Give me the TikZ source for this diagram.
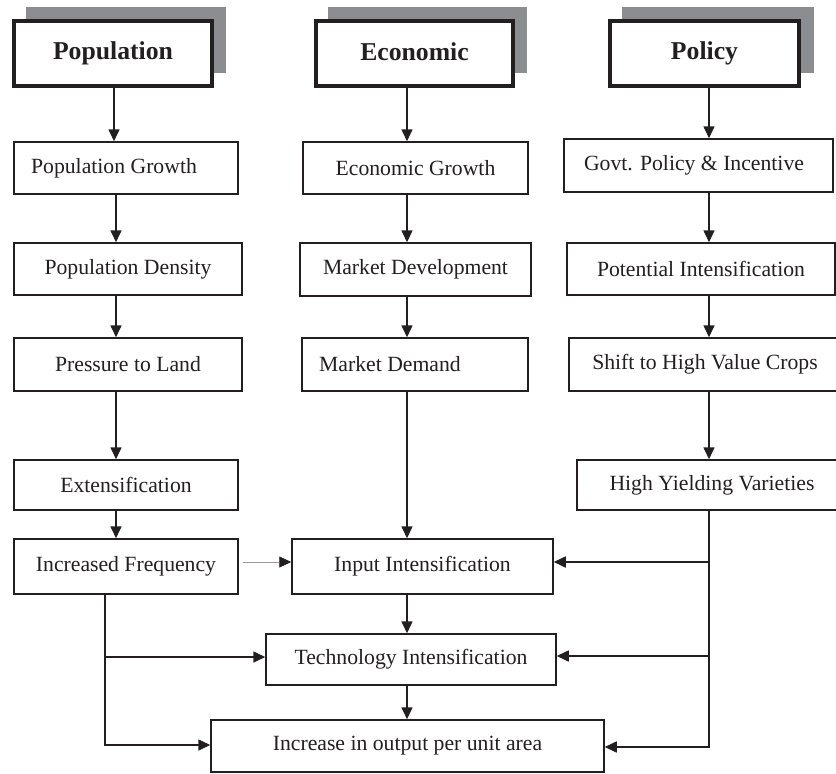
\documentclass[tikz,border=0pt]{standalone}
\usepackage{fontspec}
\setmainfont{Liberation Serif}
\usetikzlibrary{arrows.meta,calc}
\definecolor{ink}{HTML}{231F20}
\definecolor{shade}{HTML}{8C8D91}
\definecolor{thinln}{HTML}{9A9A9A}
\begin{document}
\begin{tikzpicture}[x=1pt,y=-1pt,
  box/.style={draw=ink,line width=1.5pt,rectangle,inner sep=0pt,fill=white,
    font=\fontsize{21.7pt}{26pt}\selectfont,text=ink},
  headbox/.style={draw=ink,line width=3.6pt,rectangle,inner sep=0pt,fill=white,
    font=\fontsize{25.7pt}{30pt}\selectfont\bfseries,text=ink},
  shadowbox/.style={fill=shade,draw=none},
  ln/.style={draw=ink,line width=1.6pt},
  arr/.style={draw=ink,line width=1.6pt,-{Triangle[length=12pt,width=11pt]}},
  garr/.style={draw=thinln,line width=0.9pt,-{Triangle[length=12pt,width=11pt,color=ink]}}
]
\useasboundingbox (0,0) rectangle (836,774);
\fill[white] (0,0) rectangle (836,774);

% header shadows
\fill[shadowbox] (26,7) rectangle (226,73);
\fill[shadowbox] (328,7) rectangle (527,73);
\fill[shadowbox] (622,7) rectangle (814,73);

% headers
\node[headbox,minimum width=198pt,minimum height=65pt] (hp) at (113,53.5) {\raisebox{4.5pt}{Population}};
\node[headbox,minimum width=197pt,minimum height=65pt] (he) at (414.5,53.5) {\raisebox{4.5pt}{Economic}};
\node[headbox,minimum width=189pt,minimum height=65pt] (hy) at (704.5,53.5) {\raisebox{4.5pt}{Policy}};

% left column
\node[box,minimum width=224pt,minimum height=52pt] (pg) at (126,168) {Population Growth\hspace*{24pt}};
\node[box,minimum width=228pt,minimum height=52pt] (pd) at (128,269) {Population Density};
\node[box,minimum width=228pt,minimum height=53pt] (pl) at (128,364.5) {Pressure to Land};
\node[box,minimum width=224pt,minimum height=50pt] (ex) at (126,485) {Extensification};
\node[box,minimum width=224pt,minimum height=55pt] (if) at (126,566.5) {Increased Frequency};

% middle column
\node[box,minimum width=225pt,minimum height=52pt] (eg) at (415.5,168) {Economic Growth};
\node[box,minimum width=231pt,minimum height=53pt] (md) at (415.5,269.5) {Market Development};
\node[box,minimum width=226pt,minimum height=53pt] (mq) at (415,364.5) {Market Demand\hspace*{50pt}};

% right column
\node[box,minimum width=269pt,minimum height=53pt] (gp) at (698.5,165.5) {Govt. Policy \& Incentive\hspace*{9pt}};
\node[box,minimum width=268pt,minimum height=52pt] (pi) at (701,269) {Potential Intensification};
\node[box,minimum width=272pt,minimum height=53pt] (sh) at (705,364.5) {Shift to High Value Crops};
\node[box,minimum width=270pt,minimum height=50pt] (hv) at (712,485) {High Yielding Varieties};

% bottom
\node[box,minimum width=261pt,minimum height=55pt] (ii) at (422.5,566.5) {Input Intensification};
\node[box,minimum width=290pt,minimum height=51pt] (ti) at (411,659.5) {Technology Intensification};
\node[box,minimum width=393pt,minimum height=52pt] (io) at (407.5,746) {\raisebox{3pt}{Increase in output per unit area}};

% column guides
\coordinate (cL) at (116,0);
\coordinate (cH) at (114,0);
\coordinate (cM) at (407,0);
\coordinate (cR) at (709,0);

% left column arrows
\draw[arr] (hp.south -| cH) -- (pg.north -| cH);
\draw[arr] (pg.south -| cL) -- (pd.north -| cL);
\draw[arr] (pd.south -| cL) -- (pl.north -| cL);
\draw[arr] (pl.south -| cL) -- (ex.north -| cL);
\draw[arr] (ex.south -| cL) -- (if.north -| cL);

% middle column arrows
\draw[arr] (he.south -| cM) -- (eg.north -| cM);
\draw[arr] (eg.south -| cM) -- (md.north -| cM);
\draw[arr] (md.south -| cM) -- (mq.north -| cM);
\draw[arr] (mq.south -| cM) -- (ii.north -| cM);
\draw[arr] (ii.south -| cM) -- (ti.north -| cM);
\draw[arr] (ti.south -| cM) -- (io.north -| cM);

% right column arrows
\draw[arr] (hy.south -| cR) -- (gp.north -| cR);
\draw[arr] (gp.south -| cR) -- (pi.north -| cR);
\draw[arr] (pi.south -| cR) -- (sh.north -| cR);
\draw[arr] (sh.south -| cR) -- (hv.north -| cR);

% increased frequency -> input intensification
\draw[garr] ([xshift=4pt,yshift=4.5pt]if.east) -- ([yshift=4.5pt]ii.west);

% left trunk
\coordinate (lb1) at (105,657);
\coordinate (lb2) at (105,745);
\coordinate (lbe) at (105,746);
\draw[ln] (if.south -| lb1) -- (lbe);
\draw[arr] (lb1) -- (lb1 -| ti.west);
\draw[arr] (lb2) -- (lb2 -| io.west);

% right trunk
\coordinate (rb1) at (709,562);
\coordinate (rb2) at (709,656);
\coordinate (rb3) at (709,747);
\coordinate (rbe) at (709,748);
\draw[ln] (hv.south -| rb1) -- (rbe);
\draw[arr] (rb1) -- (rb1 -| ii.east);
\draw[arr] (rb2) -- (rb2 -| ti.east);
\draw[arr] (rb3) -- (rb3 -| io.east);
\end{tikzpicture}
\end{document}
